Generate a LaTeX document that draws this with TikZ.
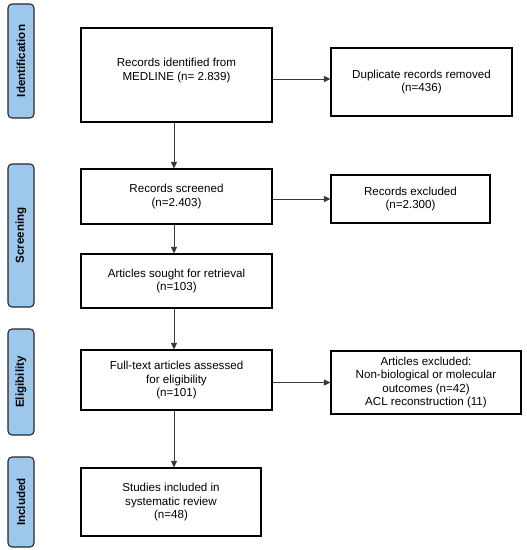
\documentclass[tikz,border=0pt]{standalone}
\usepackage{fontspec}
\setmainfont{Liberation Sans}
\usetikzlibrary{arrows.meta}
\definecolor{sideblue}{HTML}{9DC8EC}
\definecolor{linegray}{HTML}{3A3A3A}
\tikzset{
  box/.style={draw=black, line width=1.1pt, fill=white, align=center, inner sep=2pt,
    font=\fontsize{11.6}{13.4}\selectfont},
  side/.style={draw=black!85, line width=1.1pt, fill=sideblue, rounded corners=4pt,
    minimum width=26pt, rotate=90, inner sep=0pt,
    font=\fontsize{11.6}{13}\selectfont\bfseries},
  arr/.style={draw=linegray, line width=0.8pt, -{Triangle[length=6.5pt,width=6pt]}},
}
\begin{document}
\begin{tikzpicture}[x=1pt,y=-1pt]
\useasboundingbox (0,0) rectangle (527,550);
% side labels
\node[side, minimum width=114pt, minimum height=26pt] (sid) at (21,61) {Identification};
\node[side, minimum width=143pt, minimum height=26pt] (ssc) at (21,235.5) {Screening};
\node[side, minimum width=106pt, minimum height=26pt] (sel) at (21,382) {Eligibility};
\node[side, minimum width=90pt, minimum height=26pt] (sin) at (21,502) {Included};
% main boxes
\node[box, minimum width=191pt, minimum height=94pt] (b1) at (176.5,75) {Records identified from\\MEDLINE (n= 2.839)\\[-2pt]\mbox{}};
\node[box, minimum width=191pt, minimum height=55pt] (b2) at (176.5,196.5) {Records screened\\(n=2.403)};
\node[box, minimum width=191pt, minimum height=54pt] (b3) at (176.5,281) {Articles sought for retrieval\\(n=103)};
\node[box, minimum width=191pt, minimum height=60pt] (b4) at (176.5,380) {Full-text articles assessed\\for eligibility\\(n=101)};
\node[box, minimum width=180pt, minimum height=68pt] (b5) at (171,502) {Studies included in\\systematic review\\(n=48)};
% right boxes
\node[box, minimum width=181pt, minimum height=68pt] (d) at (421.5,82) {Duplicate records removed\\(n=436)};
\node[box, minimum width=159pt, minimum height=48pt] (e) at (410.5,199) {Records excluded\\(n=2.300)};
\node[box, minimum width=190pt, minimum height=63pt] (a) at (426,382.5) {Articles excluded:\\Non-biological or molecular\\outcomes (n=42)\\ACL reconstruction (11)};
% arrows
\draw[arr] ([xshift=-2.5pt]b1.south) -- ([xshift=-2.5pt]b2.north);
\draw[arr] ([xshift=-2.5pt]b2.south) -- ([xshift=-2.5pt]b3.north);
\draw[arr] ([xshift=-2.5pt]b3.south) -- ([xshift=-2.5pt]b4.north);
\draw[arr] ([xshift=-2.5pt]b4.south) -- ([xshift=-2.5pt]b4.south |- b5.north);
\draw[arr] ([yshift=3pt]b1.east |- d.west) -- ([yshift=3pt]d.west);
\draw[arr] (b2.east |- e.west) -- (e.west);
\draw[arr] (b4.east |- a.west) -- (a.west);
\end{tikzpicture}
\end{document}
